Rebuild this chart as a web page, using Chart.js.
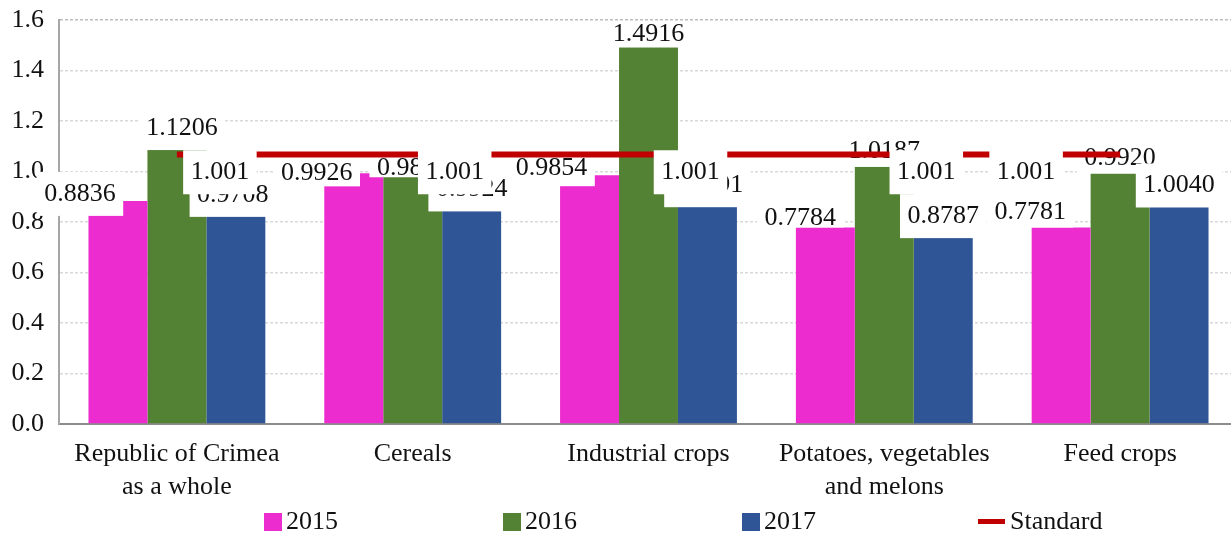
<!DOCTYPE html>
<html>
<head>
<meta charset="utf-8">
<script src="https://cdn.jsdelivr.net/npm/chart.js@4.4.1/dist/chart.umd.min.js"></script>
<style>
  html, body { margin: 0; padding: 0; background: #fff; overflow: hidden; }
  #wrap { width: 1238px; height: 533px; }
</style>
</head>
<body>
<div id="wrap"><canvas id="chart"></canvas></div>
<script>
const categories = [['Republic of Crimea', 'as a whole'], 'Cereals', 'Industrial crops', ['Potatoes, vegetables', 'and melons'], 'Feed crops'];
const years = ['2015', '2016', '2017'];
const values2015 = [0.8836, 0.9926, 0.9854, 0.7784, 0.7781];
const values2016 = [1.1206, 0.9812, 1.4916, 1.0187, 0.9920];
const values2017 = [0.9708, 0.9924, 1.0091, 0.8787, 1.0040];
const standard = [1.001, 1.001, 1.001, 1.001, 1.001];
const standardName = 'Standard';

const FONT = '26px "Liberation Serif", "Times New Roman", serif';
const barColors = ['#ec2ccf', '#548235', '#2f5597'];
const lineColor = '#c00000';
const seriesValues = [values2015, values2016, values2017];

// value labels: offset from the top centre of the bar, and height of the white box behind
const barLabelPlacement = [
  { dx: [-38, -37, -38, -25, -31], dy: [-7, 0, -7, -9, -15], h: [44, 26, 36, 18, 30] },
  { dx: [5, 0, 0, 0, 0], dy: [-13, -8, -13, -16, -15], h: [44, 18, 26, 32, 30] },
  { dx: [-3, 0, 0, 0, 0], dy: [16, 16, 16, 14, 15], h: [44, 44, 44, 44, 44] }
];
const standardPlacement = { dx: [43, 42, 42, 42, -94], dy: 1, h: 44 };

function drawBoxLabel(ctx, text, cx, cy, h) {
  ctx.save();
  ctx.font = FONT;
  const w = ctx.measureText(text).width + 15;
  if (h > 0) {
    ctx.fillStyle = '#fff';
    ctx.fillRect(cx - w / 2, cy - h / 2, w, h);
  }
  ctx.fillStyle = '#111';
  ctx.textAlign = 'center';
  ctx.textBaseline = 'middle';
  ctx.fillText(text, cx, cy);
  ctx.restore();
}

const labelPlugin = {
  id: 'labelPlugin',
  afterDatasetDraw(chart, args) {
    // 2015 is the last bar series painted, the Standard line comes after it
    if (args.index !== 0) return;
    seriesValues.forEach((vals, s) => {
      const p = barLabelPlacement[s];
      chart.getDatasetMeta(s).data.forEach((bar, i) => {
        drawBoxLabel(chart.ctx, vals[i].toFixed(4), bar.x + p.dx[i], bar.y + p.dy[i], p.h[i]);
      });
    });
  },
  afterDatasetsDraw(chart) {
    const y = chart.scales.y;
    chart.getDatasetMeta(3).data.forEach((pt, i) => {
      drawBoxLabel(chart.ctx, String(standard[i]), pt.x + standardPlacement.dx[i],
        y.getPixelForValue(standard[i]) + standardPlacement.dy, standardPlacement.h);
    });
  },
  afterDraw(chart) {
    const ctx = chart.ctx;
    const x0 = chart.chartArea.left + 205;
    const step = 239;
    const cy = 522;
    ctx.save();
    ctx.font = FONT;
    ctx.textBaseline = 'middle';
    ctx.fillStyle = '#111';
    years.forEach((yr, i) => {
      const x = x0 + i * step;
      ctx.fillStyle = barColors[i];
      ctx.fillRect(x, cy - 9, 18, 18);
      ctx.fillStyle = '#111';
      ctx.fillText(yr, x + 22, cy);
    });
    const lx = x0 + 3 * step - 3;
    ctx.fillStyle = lineColor;
    ctx.fillRect(lx, cy - 3, 27, 5);
    ctx.fillStyle = '#111';
    ctx.fillText(standardName, lx + 32, cy);
    ctx.restore();
  }
};

new Chart(document.getElementById('chart'), {
  type: 'bar',
  data: {
    labels: categories,
    datasets: [
      ...years.map((yr, i) => ({
        label: yr,
        data: seriesValues[i],
        backgroundColor: barColors[i],
        borderWidth: 0,
        order: 1,
        categoryPercentage: 0.75,
        barPercentage: 1.0
      })),
      {
        type: 'line',
        label: standardName,
        data: standard,
        yAxisID: 'y2',
        borderColor: lineColor,
        borderWidth: 6,
        pointRadius: 0,
        fill: false,
        order: 0
      }
    ]
  },
  options: {
    responsive: true,
    maintainAspectRatio: false,
    animation: false,
    layout: { padding: { top: 20, left: 0, right: 0, bottom: 0 } },
    plugins: {
      legend: { display: false },
      tooltip: { enabled: false }
    },
    scales: {
      x: {
        grid: { display: false },
        border: { color: '#8c8c8c', width: 2 },
        ticks: {
          color: '#111',
          font: { family: '"Liberation Serif", "Times New Roman", serif', size: 26, lineHeight: 1.27 },
          padding: 6,
          maxRotation: 0,
          autoSkip: false
        },
        afterFit(scale) { scale.height = 109; }
      },
      y: {
        min: 0,
        max: 1.6,
        grid: {
          drawTicks: false,
          lineWidth: 1.5,
          color: ctx => ctx.tick && ctx.tick.value === 1.6 ? '#bdbdbd' : '#d9d9d9'
        },
        border: { color: '#a6a6a6', width: 2, dash: [3, 2] },
        ticks: {
          stepSize: 0.2,
          padding: 15,
          color: '#111',
          font: { family: '"Liberation Serif", "Times New Roman", serif', size: 26 },
          callback: v => v.toFixed(1)
        },
        afterFit(scale) {
          scale.width = 59;
          scale.paddingTop = 0;
          scale.paddingBottom = 0;
        }
      },
      y2: {
        display: false,
        min: 0,
        max: 1.5
      }
    }
  },
  plugins: [labelPlugin]
});
</script>
</body>
</html>
